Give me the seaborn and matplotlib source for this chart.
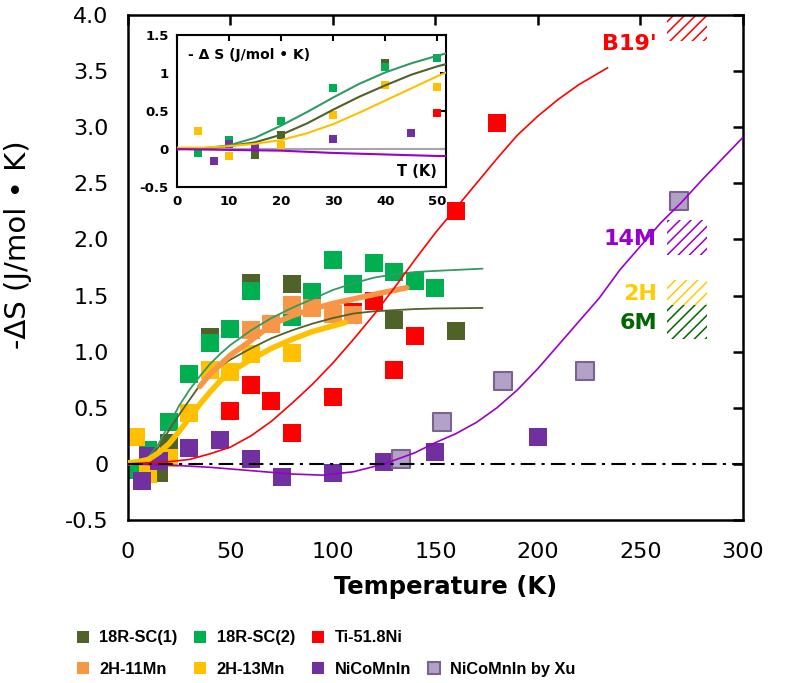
import numpy as np
import pandas as pd
import matplotlib
matplotlib.use('Agg')
import matplotlib.pyplot as plt
import seaborn as sns
from matplotlib.lines import Line2D
from matplotlib.patches import Rectangle

# ── data ─────────────────────────────────────────────────────
# measured points: temperature (K) and -dS (J/mol K)
t_18r1 = [4, 15, 20, 40, 60, 80, 130, 160]
s_18r1 = [-0.05, -0.08, 0.19, 1.13, 1.61, 1.60, 1.28, 1.18]

t_18r2 = [4, 10, 20, 30, 40, 50, 60, 80, 90, 100, 110, 120, 130, 140, 150]
s_18r2 = [-0.05, 0.12, 0.37, 0.80, 1.08, 1.20, 1.54, 1.31, 1.53, 1.82, 1.60, 1.79, 1.71, 1.63, 1.57]

t_tini = [50, 60, 70, 80, 100, 110, 120, 130, 140, 160, 180]
s_tini = [0.47, 0.70, 0.56, 0.28, 0.60, 1.35, 1.45, 0.84, 1.14, 2.25, 3.04]

t_2h11 = [60, 70, 80, 90, 100, 110]
s_2h11 = [1.19, 1.25, 1.42, 1.39, 1.34, 1.33]

t_2h13 = [4, 10, 20, 30, 40, 50, 60, 80]
s_2h13 = [0.24, -0.09, 0.05, 0.45, 0.84, 0.82, 0.98, 0.99]

t_ncmi = [7, 10, 15, 30, 45, 60, 75, 100, 125, 150, 200]
s_ncmi = [-0.15, 0.07, 0.03, 0.14, 0.21, 0.04, -0.12, -0.08, 0.02, 0.11, 0.24]

t_xu = [133, 153, 183, 223, 269]
s_xu = [0.04, 0.37, 0.74, 0.83, 2.34]

# fitted curves (main panel)
fit_t_18r2 = [0, 5, 10, 15, 20, 25, 30, 35, 40, 45, 50, 60, 70, 80, 90, 100, 110, 120, 130, 140, 150, 173]
fit_s_18r2 = [0.0, 0.01, 0.06, 0.18, 0.35, 0.52, 0.66, 0.78, 0.89, 0.98, 1.06, 1.19, 1.30, 1.39, 1.47,
              1.55, 1.61, 1.66, 1.69, 1.71, 1.72, 1.74]
fit_t_18r1 = [0, 5, 10, 15, 20, 25, 30, 35, 40, 45, 50, 60, 70, 80, 90, 100, 110, 120, 130, 140, 150, 173]
fit_s_18r1 = [0.0, 0.01, 0.05, 0.15, 0.30, 0.44, 0.57, 0.70, 0.80, 0.87, 0.93, 1.03, 1.12, 1.19, 1.25,
              1.30, 1.34, 1.36, 1.37, 1.38, 1.385, 1.39]
fit_t_tini = [0, 20, 30, 40, 50, 60, 70, 80, 90, 100, 110, 120, 130, 140, 150, 160, 170, 180, 190, 200, 210, 220, 234]
fit_s_tini = [0.0, 0.02, 0.04, 0.09, 0.15, 0.25, 0.38, 0.54, 0.71, 0.90, 1.11, 1.33, 1.57, 1.82, 2.06,
              2.28, 2.50, 2.72, 2.93, 3.10, 3.25, 3.38, 3.53]
fit_t_2h11 = [35, 40, 50, 60, 70, 80, 90, 100, 110, 120, 136]
fit_s_2h11 = [0.69, 0.80, 0.97, 1.10, 1.24, 1.32, 1.38, 1.43, 1.47, 1.51, 1.57]
fit_t_2h13 = [0, 5, 10, 15, 20, 25, 30, 35, 40, 45, 50, 60, 70, 80, 90, 106]
fit_s_2h13 = [0.01, 0.02, 0.04, 0.10, 0.18, 0.29, 0.41, 0.53, 0.64, 0.74, 0.82, 0.93, 1.03, 1.11, 1.18, 1.26]
fit_t_ncmi = [0, 20, 40, 60, 80, 95, 110, 125, 140, 150, 160, 170, 180, 190, 200, 210, 220, 230, 240,
              250, 260, 270, 280, 290, 300]
fit_s_ncmi = [0.0, -0.01, -0.03, -0.06, -0.09, -0.10, -0.07, 0.0, 0.10, 0.19, 0.27, 0.37, 0.50, 0.66,
              0.85, 1.06, 1.27, 1.48, 1.73, 1.94, 2.15, 2.33, 2.53, 2.72, 2.91]

# fitted curves (inset, 0-50 K)
in_t = [0, 5, 10, 15, 20, 25, 30, 35, 40, 45, 50, 51.7]
in_s_18r2 = [0.0, 0.01, 0.05, 0.15, 0.31, 0.49, 0.68, 0.86, 1.01, 1.13, 1.23, 1.26]
in_s_18r1 = [0.0, 0.01, 0.04, 0.09, 0.19, 0.34, 0.52, 0.69, 0.84, 0.98, 1.09, 1.12]
in_s_2h13 = [0.02, 0.02, 0.04, 0.07, 0.12, 0.21, 0.33, 0.48, 0.64, 0.80, 0.96, 1.01]
in_s_ncmi = [0.0, -0.005, -0.01, -0.015, -0.02, -0.035, -0.05, -0.06, -0.07, -0.08, -0.09, -0.09]

# phase windows on the right
phase_names = ["B19'", "14M", "2H", "6M"]
phase_lo = [3.77, 1.86, 1.42, 1.11]
phase_hi = [4.0, 2.17, 1.64, 1.42]

# ── styling ──────────────────────────────────────────────────
sns.set_theme(style='white')
plt.rcParams['font.family'] = ['DejaVu Sans']
plt.rcParams['hatch.linewidth'] = 1.1
plt.rcParams['text.color'] = 'black'
plt.rcParams['axes.labelcolor'] = 'black'

c_18r1 = '#4F6228'
c_18r2 = '#00B050'
c_tini = '#FF0000'
c_2h11 = '#F79646'
c_2h13 = '#FFC000'
c_ncmi = '#7030A0'
c_xu = '#B3A2C7'
c_xu_edge = '#7A6390'
phase_colors = ['#FF0000', '#9900CC', '#FFCC00', '#006600']

series = [
    ('18R-SC(1)', t_18r1, s_18r1, c_18r1),
    ('18R-SC(2)', t_18r2, s_18r2, c_18r2),
    ('Ti-51.8Ni', t_tini, s_tini, c_tini),
    ('2H-11Mn', t_2h11, s_2h11, c_2h11),
    ('2H-13Mn', t_2h13, s_2h13, c_2h13),
    ('NiCoMnIn', t_ncmi, s_ncmi, c_ncmi),
]

fig = plt.figure(figsize=(7.87, 6.83), dpi=100)
ax = fig.add_axes([0.1626, 0.2386, 0.7814, 0.7394])

for name, t, s, c in series:
    sns.scatterplot(x=t, y=s, ax=ax, marker='s', s=170, color=c, linewidth=0, zorder=2)
sns.scatterplot(x=t_xu, y=s_xu, ax=ax, marker='s', s=155, color=c_xu,
                edgecolor=c_xu_edge, linewidth=1.5, zorder=2)

curves = [
    (fit_t_18r2, fit_s_18r2, '#339966', 1.3),
    (fit_t_18r1, fit_s_18r1, c_18r1, 1.3),
    (fit_t_2h11, fit_s_2h11, c_2h11, 4.0),
    (fit_t_2h13, fit_s_2h13, c_2h13, 4.0),
    (fit_t_tini, fit_s_tini, c_tini, 1.2),
    (fit_t_ncmi, fit_s_ncmi, '#9900CC', 1.2),
]
for t, s, c, lw in curves:
    sns.lineplot(x=t, y=s, ax=ax, color=c, lw=lw, estimator=None, sort=False, zorder=3)

ax.plot([0, 300], [0, 0], color='black', lw=1.5, ls=(0, (7, 3, 1.5, 3)), zorder=3)

# hatched phase windows
for lo, hi, c in zip(phase_lo, phase_hi, phase_colors):
    ax.add_patch(Rectangle((263, lo), 19.5, hi - lo, fill=False, hatch='///',
                           edgecolor=c, lw=0, zorder=1))
label_y = [3.74, 2.0, 1.51, 1.26]
for nm, y, c in zip(phase_names, label_y, phase_colors):
    ax.text(258, y, nm, color=c, fontsize=16, fontweight='bold', ha='right', va='center')

ax.set_xlim(0, 300)
ax.set_ylim(-0.5, 4.0)
ax.set_xticks(np.arange(0, 301, 50))
ax.set_yticks(np.arange(-0.5, 4.01, 0.5))
ax.set_yticklabels(['-0.5', '0', '0.5', '1.0', '1.5', '2.0', '2.5', '3.0', '3.5', '4.0'])
ax.tick_params(direction='in', length=7, width=1.8, top=True, right=True,
               labelsize=16, colors='black')
ax.tick_params(axis='x', pad=16)
ax.tick_params(axis='y', pad=14)
for sp in ax.spines.values():
    sp.set_linewidth(1.8)
    sp.set_color('black')
ax.set_xlabel('Temperature (K)', fontsize=17.5, fontweight='bold')
ax.xaxis.set_label_coords(0.516, -0.108)
ax.set_ylabel('-ΔS (J/mol • K)', fontsize=21)
ax.yaxis.set_label_coords(-0.156, 0.545)

# ── inset ────────────────────────────────────────────────────
ax_in = fig.add_axes([0.225, 0.726, 0.342, 0.2225])
ax_in.set_facecolor('white')
ax_in.plot([0, 51.7], [0, 0], color='#A6A6A6', lw=1.5, zorder=1)
for name, t, s, c in series:
    t = np.array(t)
    s = np.array(s)
    keep = t <= 51
    sns.scatterplot(x=t[keep], y=s[keep], ax=ax_in, marker='s', s=30, color=c, linewidth=0, zorder=2)
for s, c in [(in_s_18r2, '#339966'), (in_s_18r1, c_18r1), (in_s_2h13, c_2h13), (in_s_ncmi, '#9900CC')]:
    sns.lineplot(x=in_t, y=s, ax=ax_in, color=c, lw=1.5, estimator=None, sort=False, zorder=3)
ax_in.set_xlim(0, 51.7)
ax_in.set_ylim(-0.5, 1.5)
ax_in.set_xticks(np.arange(0, 51, 10))
ax_in.set_yticks([-0.5, 0, 0.5, 1, 1.5])
ax_in.set_yticklabels(['-0.5', '0', '0.5', '1', '1.5'])
ax_in.tick_params(direction='in', length=4, width=1.5, top=True, right=True,
                  labelsize=9.5, pad=6, colors='black')
for lab in ax_in.get_xticklabels() + ax_in.get_yticklabels():
    lab.set_fontweight('bold')
for sp in ax_in.spines.values():
    sp.set_linewidth(1.5)
    sp.set_color('black')
ax_in.set_xlabel('')
ax_in.set_ylabel('')
ax_in.text(0.04, 0.87, '- Δ S (J/mol • K)', transform=ax_in.transAxes, fontsize=10,
           fontweight='bold', va='center', ha='left')
ax_in.text(0.965, 0.10, 'T (K)', transform=ax_in.transAxes, fontsize=10.5,
           fontweight='bold', va='center', ha='right')

# ── legend ───────────────────────────────────────────────────
def sq(c, ec=None):
    return Line2D([], [], marker='s', ls='', markersize=8, color=c,
                  markeredgecolor=ec if ec else c, markeredgewidth=1.5 if ec else 0)

handles = [sq(c_18r1), sq(c_2h11), sq(c_18r2), sq(c_2h13), sq(c_tini), sq(c_ncmi),
           Line2D([], [], ls=''), sq(c_xu, c_xu_edge)]
labels = ['18R-SC(1)', '2H-11Mn', '18R-SC(2)', '2H-13Mn', 'Ti-51.8Ni', 'NiCoMnIn', '', 'NiCoMnIn by Xu']
fig.legend(handles, labels, ncol=4, loc='upper left', bbox_to_anchor=(0.0966, 0.077),
           frameon=False, handlelength=0.8, handletextpad=0.6, columnspacing=1.0,
           labelspacing=1.0, borderpad=0, borderaxespad=0,
           prop={'family': 'Liberation Sans', 'weight': 'bold', 'size': 11.8})

plt.savefig('out.png', dpi=100)
plt.close()
